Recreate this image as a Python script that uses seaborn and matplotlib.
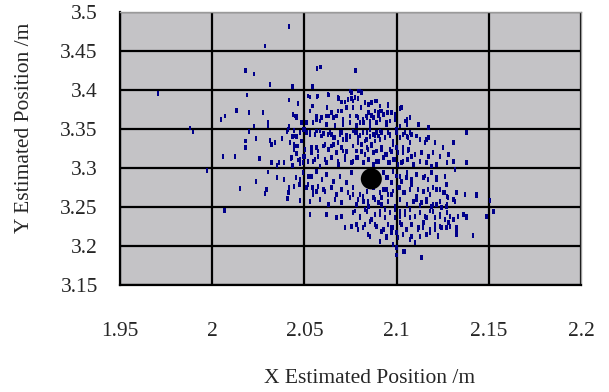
import matplotlib
matplotlib.use("Agg")
import matplotlib.pyplot as plt
import seaborn as sns
import pandas as pd

# estimated positions (x, y in metres)
x_est = [
    # upper left, sparse
    2.0418, 2.0286, 2.018, 2.0228, 2.0313, 2.0436, 1.9707, 2.019, 2.0418, 2.0465,
    2.0132, 2.0199, 2.0275, 2.0069, 2.0049, 2.0439, 2.0448, 2.0458, 2.0304, 2.0304,
    2.0228, 2.0418, 1.9879, 1.9897, 2.0199,
    # upper part of the cloud
    2.057, 2.0588, 2.0778, 2.0543, 2.053, 2.057, 2.0635, 2.0684, 2.0702, 2.072,
    2.0747, 2.0738, 2.0756, 2.0765, 2.0792, 2.0801, 2.0847, 2.0865, 2.0892, 2.091,
    2.0955, 2.1018, 2.0543, 2.0624, 2.0702, 2.0729, 2.0765, 2.0807, 2.0847, 2.0883,
    2.091, 2.095, 2.0991, 2.0566, 2.063, 2.0657, 2.0675, 2.0747, 2.0792, 2.0838,
    2.0865, 2.0901, 2.1055, 2.1118, 2.1172, 2.138, 2.0512, 2.0548, 2.0584, 2.0621,
    2.0666, 2.0711, 2.0747, 2.0783, 2.082, 2.0856, 2.0946, 2.1018, 2.1055, 2.0494,
    2.053, 2.0566, 2.0603, 2.0648, 2.0693, 2.0729, 2.0765, 2.0801, 2.0838, 2.0883,
    2.091, 2.0964, 2.1, 2.1036, 2.1073, 2.1109, 2.1172,
    # core
    2.0512, 2.0557, 2.0584, 2.0639, 2.0657, 2.0693, 2.0711, 2.0747, 2.0783, 2.0792,
    2.0829, 2.0856, 2.0865, 2.0892, 2.091, 2.0937, 2.0955, 2.0982, 2.1018, 2.1055,
    2.1073, 2.1127, 2.1154, 2.1163, 2.1208, 2.1253, 2.1308, 2.138, 2.0503, 2.0539,
    2.0566, 2.0603, 2.063, 2.0657, 2.0675, 2.0702, 2.0729, 2.0765, 2.081, 2.0838,
    2.0874, 2.0919, 2.0946, 2.0973, 2.1, 2.1036, 2.1064, 2.11, 2.1136, 2.1172,
    2.1199, 2.1235, 2.1281, 2.1272, 2.1308, 2.138, 2.0494, 2.0521, 2.0557, 2.0584,
    2.0621, 2.0648, 2.0684, 2.072, 2.0756, 2.0783, 2.082, 2.0847, 2.0892, 2.0928,
    2.0964, 2.0991, 2.1027, 2.1055, 2.1091, 2.1127, 2.1163, 2.119, 2.1217, 2.1317,
    2.0494, 2.053, 2.0566, 2.0594, 2.0621, 2.0657, 2.0693, 2.0729, 2.0756, 2.0928,
    2.0955, 2.0982, 2.1018, 2.1055, 2.1082, 2.1109, 2.1145, 2.119, 2.1217, 2.1262,
    2.0512, 2.0548, 2.0575, 2.0612, 2.0648, 2.0675, 2.0702, 2.0738, 2.0765, 2.0801,
    2.0838, 2.0874, 2.091, 2.0946, 2.0973, 2.1009, 2.1036, 2.1073, 2.1109, 2.1145,
    2.1181, 2.1217, 2.1253, 2.1272, 2.1326, 2.1371, 2.1434, 2.053, 2.0584, 2.063,
    2.0666, 2.0702, 2.0747, 2.0783, 2.082, 2.0847, 2.0883, 2.0919, 2.0955, 2.0991,
    2.1018, 2.1055, 2.1091, 2.1127, 2.1163, 2.1199, 2.1235, 2.1272, 2.1308, 2.1507,
    # lower part
    2.053, 2.0621, 2.0675, 2.0702, 2.0765, 2.0801, 2.0838, 2.0865, 2.091, 2.0937,
    2.0964, 2.0991, 2.1018, 2.1045, 2.1073, 2.11, 2.1127, 2.1163, 2.1199, 2.1235,
    2.1272, 2.1308, 2.1362, 2.138, 2.1488, 2.1525, 2.072, 2.0756, 2.0792, 2.0829,
    2.0856, 2.0892, 2.0928, 2.0955, 2.0982, 2.1018, 2.1055, 2.1082, 2.1118, 2.1145,
    2.1181, 2.1208, 2.1244, 2.1281, 2.1326, 2.0856, 2.091, 2.0946, 2.0973, 2.1009,
    2.1036, 2.1073, 2.11, 2.1127, 2.1163, 2.1226, 2.1326, 2.1416, 2.1, 2.1045,
    2.1136,
    # left part
    2.0181, 2.0181, 2.0237, 2.0313, 2.0322, 2.0342, 2.038, 2.0407, 2.0445, 2.0436,
    2.0458, 2.0445, 2.0467, 2.0445, 2.0458, 2.0058, 2.0125, 2.0257, 2.0322, 2.0351,
    2.0362, 2.0389, 2.0427, 2.0436, 2.0467, 2.0476, 2.0494, 1.9972, 2.0304, 2.0351,
    2.0389, 2.0239, 2.0152, 2.0295, 2.0286, 2.0418, 2.0413, 2.0409, 2.0445, 2.0456,
    2.0476, 2.0474, 2.0476, 2.0521, 2.0539, 2.0521, 2.0545, 2.0548, 2.0566, 2.0603,
    2.0067,
    # second pass, upper core
    2.0756, 2.0774, 2.0792, 2.081, 2.0828, 2.0846, 2.0865, 2.0883, 2.0901, 2.0919,
    2.0955, 2.0973, 2.1027, 2.0783, 2.0801, 2.0819, 2.0837, 2.0855, 2.0874, 2.0892,
    2.091, 2.0928, 2.0946, 2.0964, 2.0991, 2.1, 2.1045, 2.1072, 2.0774, 2.0792,
    2.0819, 2.0837, 2.0855, 2.0874, 2.0883, 2.0901, 2.0919, 2.0937, 2.0964, 2.0982,
    2.1018, 2.1045, 2.1063, 2.1081, 2.0765, 2.0783, 2.081, 2.0828, 2.0846, 2.0865,
    2.0892, 2.0919, 2.0937, 2.0964, 2.0982, 2.1009, 2.1036, 2.1063, 2.1081, 2.0765,
    2.0792, 2.0819, 2.0846, 2.0874, 2.0901, 2.0928, 2.0955, 2.0982, 2.1009, 2.1036,
    2.1063,
    # second pass, lower core
    2.0946, 2.0973, 2.1, 2.1027, 2.1054, 2.1081, 2.0928, 2.0955, 2.0982, 2.1018,
    2.1045, 2.1072, 2.0765, 2.0792, 2.0819, 2.0846, 2.0874, 2.0901, 2.0919, 2.0774,
    2.0801, 2.0828, 2.0855, 2.0883, 2.091, 2.0937, 2.0964, 2.0991, 2.1018, 2.1045,
    2.1072, 2.0783, 2.0819, 2.0846, 2.0883, 2.0919, 2.0946, 2.0973, 2.1, 2.1027,
    2.1054, 2.1081, 2.091, 2.0982, 2.1036, 2.1,
    # second pass, lower right
    2.1153, 2.1171, 2.1217, 2.1117, 2.1144, 2.1171, 2.1198, 2.1235, 2.1271, 2.1262,
    2.128, 2.1316, 2.137, 2.1433, 2.1108, 2.1135, 2.1162, 2.1189, 2.1217, 2.1244,
    2.1271, 2.1126, 2.1153, 2.118, 2.1207, 2.1235, 2.1262, 2.1289, 2.1334, 2.1361,
    2.1379, 2.1117, 2.1144, 2.118, 2.1207, 2.1235, 2.1271, 2.1289, 2.1325, 2.1226,
    # second pass, upper left core
    2.0439, 2.0416, 2.0466, 2.0521, 2.0571, 2.0629, 2.0683, 2.0719, 2.0439, 2.0457,
    2.0484, 2.053, 2.0566, 2.0593, 2.062, 2.0647, 2.0683, 2.071, 2.0548, 2.0412,
    2.0448, 2.0475, 2.0502, 2.053, 2.0566, 2.0593, 2.0629, 2.0665, 2.0701, 2.0728,
    2.0421, 2.0457, 2.0484, 2.0539, 2.0575, 2.0611, 2.0647, 2.0683, 2.071, 2.043,
    2.0475, 2.0502, 2.0548, 2.0575, 2.0611, 2.0647, 2.0683, 2.0719,
]
y_est = [
    3.481, 3.4563, 3.4247, 3.4203, 3.4067, 3.404, 3.3955, 3.3933, 3.3869, 3.3823,
    3.3737, 3.371, 3.371, 3.3664, 3.362, 3.3685, 3.3664, 3.3643, 3.358, 3.3535,
    3.3535, 3.353, 3.351, 3.3458, 3.3463,
    3.427, 3.4294, 3.4251, 3.4041, 3.3908, 3.3908, 3.3934, 3.3887, 3.3844, 3.3844,
    3.3985, 3.3878, 3.3887, 3.3857, 3.3887, 3.3985, 3.3814, 3.3835, 3.3857, 3.3792,
    3.3792, 3.3758, 3.3792, 3.3771, 3.3728, 3.3771, 3.3771, 3.3771, 3.3707, 3.3728,
    3.3728, 3.3707, 3.3685, 3.3664, 3.3664, 3.3642, 3.3664, 3.3664, 3.3642, 3.3642,
    3.3672, 3.3664, 3.3621, 3.3557, 3.3514, 3.3458, 3.3578, 3.3578, 3.36, 3.3557,
    3.3544, 3.3557, 3.3578, 3.3544, 3.3578, 3.3557, 3.3557, 3.3535, 3.3557, 3.3492,
    3.345, 3.3471, 3.3441, 3.3428, 3.3458, 3.3415, 3.3471, 3.3415, 3.345, 3.3415,
    3.3471, 3.3415, 3.345, 3.3428, 3.345, 3.3407, 3.3385,
    3.3449, 3.3428, 3.3471, 3.3449, 3.3385, 3.3428, 3.3363, 3.3406, 3.3449, 3.3321,
    3.3342, 3.3406, 3.3299, 3.3449, 3.3363, 3.3385, 3.3449, 3.3321, 3.3385, 3.3406,
    3.3321, 3.3363, 3.3321, 3.3363, 3.3321, 3.3256, 3.3321, 3.3449, 3.3235, 3.3192,
    3.3256, 3.3278, 3.3235, 3.3299, 3.3192, 3.3256, 3.3213, 3.3278, 3.3213, 3.3256,
    3.3192, 3.3235, 3.3171, 3.3213, 3.3256, 3.3192, 3.3235, 3.3171, 3.3192, 3.3149,
    3.3192, 3.3149, 3.3171, 3.3063, 3.3085, 3.3072, 3.3063, 3.3085, 3.3106, 3.3021,
    3.3063, 3.3128, 3.3042, 3.3106, 3.3063, 3.3128, 3.3063, 3.3106, 3.3085, 3.3128,
    3.3063, 3.3106, 3.3063, 3.3106, 3.3042, 3.3085, 3.3063, 3.3021, 3.3042, 3.2978,
    3.2935, 3.2892, 3.2956, 3.2849, 3.2914, 3.2828, 3.2892, 3.2806, 3.2935, 3.2935,
    3.2871, 3.2956, 3.2892, 3.2935, 3.2849, 3.2914, 3.2871, 3.2935, 3.2849, 3.2892,
    3.2742, 3.2678, 3.2764, 3.2699, 3.2742, 3.2656, 3.2721, 3.2678, 3.2742, 3.2656,
    3.2699, 3.2742, 3.2678, 3.2721, 3.2656, 3.2742, 3.2678, 3.2721, 3.2635, 3.2699,
    3.2656, 3.2721, 3.2678, 3.2635, 3.2678, 3.2656, 3.2656, 3.2571, 3.2592, 3.2528,
    3.2592, 3.2549, 3.2614, 3.2528, 3.2571, 3.2506, 3.2592, 3.2528, 3.2571, 3.2506,
    3.2592, 3.2528, 3.2571, 3.2515, 3.2592, 3.2528, 3.2571, 3.2528, 3.2592, 3.2584,
    3.2399, 3.2399, 3.2356, 3.2378, 3.2421, 3.2356, 3.2442, 3.2335, 3.2399, 3.2464,
    3.2421, 3.2356, 3.2442, 3.2399, 3.2464, 3.2378, 3.2421, 3.2356, 3.2442, 3.2378,
    3.2421, 3.2335, 3.2399, 3.2356, 3.2378, 3.2442, 3.2228, 3.2249, 3.2206, 3.2271,
    3.2314, 3.2249, 3.2206, 3.2271, 3.2228, 3.2292, 3.2206, 3.2271, 3.2228, 3.2292,
    3.2206, 3.2271, 3.2228, 3.2292, 3.2228, 3.2121, 3.2057, 3.2121, 3.2164, 3.2099,
    3.2142, 3.2078, 3.2035, 3.2121, 3.2142, 3.2121, 3.2142, 3.2129, 3.1971, 3.1928,
    3.1842,
    3.3342, 3.3256, 3.3372, 3.3351, 3.3299, 3.3321, 3.3372, 3.3458, 3.3479, 3.3398,
    3.3398, 3.3299, 3.3278, 3.3235, 3.3183, 3.3141, 3.3141, 3.3119, 3.3072, 3.3029,
    3.3072, 3.3072, 3.3115, 3.3029, 3.3098, 3.3051, 3.3141, 3.2961, 3.2944, 3.2875,
    3.2849, 3.2828, 3.2738, 3.2716, 3.2669, 3.2742, 3.2686, 3.2601, 3.2764, 3.2871,
    3.2849, 3.2785, 3.2584, 3.2892, 3.2892, 3.2785, 3.2742, 3.2656, 3.2699, 3.2721,
    3.2446,
    3.3964, 3.3899, 3.3985, 3.3964, 3.3835, 3.3814, 3.3835, 3.3856, 3.3706, 3.3728,
    3.3814, 3.3706, 3.3771, 3.3664, 3.3578, 3.3621, 3.3664, 3.3599, 3.3642, 3.3578,
    3.3621, 3.3685, 3.3578, 3.3599, 3.3621, 3.3492, 3.3599, 3.3642, 3.3449, 3.3385,
    3.3449, 3.3364, 3.3492, 3.3428, 3.3342, 3.3407, 3.3449, 3.3385, 3.3428, 3.3342,
    3.3385, 3.3449, 3.3385, 3.3428, 3.3278, 3.3214, 3.3299, 3.3171, 3.3235, 3.3278,
    3.3214, 3.3257, 3.3171, 3.3235, 3.3299, 3.3192, 3.3257, 3.3214, 3.3149, 3.3085,
    3.3128, 3.3064, 3.3107, 3.3042, 3.3085, 3.3128, 3.3064, 3.3107, 3.3042, 3.3085,
    3.3107,
    3.2871, 3.2807, 3.2893, 3.2828, 3.2871, 3.2785, 3.2721, 3.2657, 3.27, 3.2743,
    3.2678, 3.2721, 3.2657, 3.2593, 3.2635, 3.2571, 3.2614, 3.255, 3.2614, 3.2443,
    3.2378, 3.2464, 3.2314, 3.24, 3.2443, 3.2357, 3.2421, 3.2464, 3.2378, 3.2443,
    3.2357, 3.2271, 3.2228, 3.2143, 3.2271, 3.2186, 3.21, 3.2228, 3.2164, 3.2271,
    3.2207, 3.2121, 3.2057, 3.2014, 3.1928, 3.188,
    3.2893, 3.285, 3.2871, 3.2721, 3.27, 3.2721, 3.2743, 3.2721, 3.2785, 3.2678,
    3.2614, 3.2571, 3.2657, 3.2648, 3.2593, 3.255, 3.2571, 3.2507, 3.2528, 3.2485,
    3.2507, 3.2421, 3.2378, 3.2443, 3.2357, 3.24, 3.2336, 3.2378, 3.2378, 3.24,
    3.2378, 3.2207, 3.2228, 3.2164, 3.2207, 3.225, 3.2228, 3.225, 3.2164, 3.213,
    3.4049, 3.3869, 3.3826, 3.3921, 3.3921, 3.3942, 3.3899, 3.3844, 3.3685, 3.3664,
    3.3578, 3.3728, 3.3621, 3.3642, 3.3664, 3.3706, 3.3728, 3.3621, 3.3578, 3.3492,
    3.3407, 3.3449, 3.3492, 3.3428, 3.3471, 3.3407, 3.3428, 3.3385, 3.3449, 3.3364,
    3.3321, 3.3278, 3.3342, 3.3257, 3.3214, 3.3299, 3.3278, 3.3321, 3.3214, 3.3128,
    3.3107, 3.3149, 3.3085, 3.3149, 3.3107, 3.3128, 3.3085, 3.3149,
]

# mean position (big black dot)
x_mean = [2.0863]
y_mean = [3.2857]

x_ticks = [1.95, 2.0, 2.05, 2.1, 2.15, 2.2]
x_labels = ["1.95", "2", "2.05", "2.1", "2.15", "2.2"]
y_ticks = [3.15, 3.2, 3.25, 3.3, 3.35, 3.4, 3.45, 3.5]
y_labels = ["3.15", "3.2", "3.25", "3.3", "3.35", "3.4", "3.45", "3.5"]

pts = pd.DataFrame({"x": x_est, "y": y_est})
mean_df = pd.DataFrame({"x": x_mean, "y": y_mean})

sns.set_style("white")
plt.rcParams["font.family"] = ["Liberation Serif", "DejaVu Serif"]

fig = plt.figure(figsize=(6.09, 3.92), dpi=100)
ax = fig.add_axes([0.197, 0.2742, 0.757, 0.6952])
ax.set_facecolor("#c4c3c6")

# small vertical dash, like the original markers
dash = [(-0.5, -1.0), (0.5, -1.0), (0.5, 1.0), (-0.5, 1.0), (-0.5, -1.0)]
sns.scatterplot(data=pts, x="x", y="y", ax=ax, marker=dash, s=12,
                color="#00008b", edgecolor="none", linewidth=0, zorder=3)
sns.scatterplot(data=mean_df, x="x", y="y", ax=ax, marker="o", s=230,
                color="black", edgecolor="none", linewidth=0, zorder=4)

ax.set_xlim(1.95, 2.2)
ax.set_ylim(3.15, 3.5)
ax.set_xticks(x_ticks)
ax.set_xticklabels(x_labels)
ax.set_yticks(y_ticks)
ax.set_yticklabels(y_labels)
ax.tick_params(axis="both", length=0, labelsize=15.5)
ax.tick_params(axis="x", pad=27)
ax.tick_params(axis="y", pad=16)

ax.grid(True, color="black", linewidth=1.6)
ax.set_axisbelow(True)

for side in ["left", "bottom"]:
    ax.spines[side].set_color("black")
    ax.spines[side].set_linewidth(1.6)
for side in ["top", "right"]:
    ax.spines[side].set_color("#9a9a9a")
    ax.spines[side].set_linewidth(1.0)

ax.set_xlabel("X Estimated Position /m", fontsize=15.5)
ax.set_ylabel("Y Estimated Position /m", fontsize=15.5)
ax.xaxis.set_label_coords(0.542, -0.31)
ax.yaxis.set_label_coords(-0.187, 0.574)

fig.savefig("out.png", dpi=100)
